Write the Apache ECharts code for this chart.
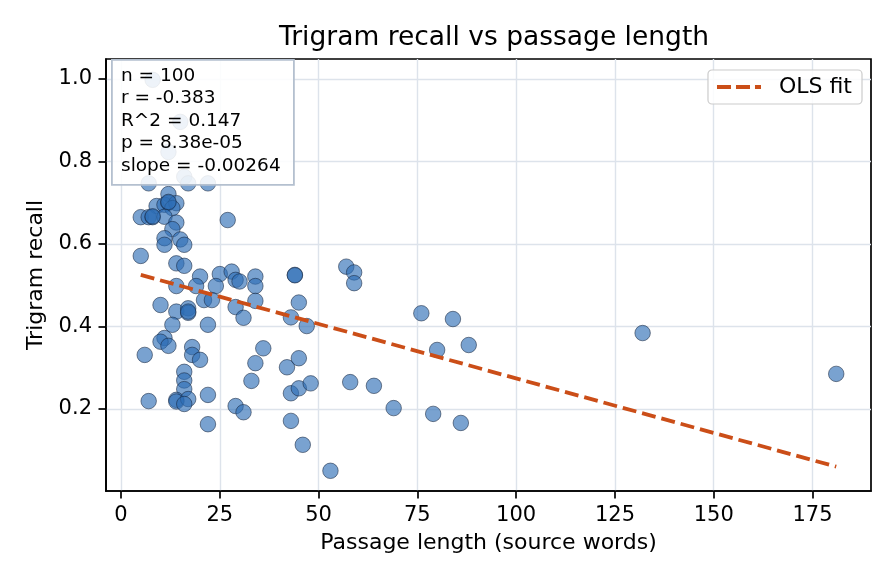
<!DOCTYPE html>
<html>
<head>
<meta charset="utf-8">
<script src="https://cdn.jsdelivr.net/npm/echarts@6/dist/echarts.min.js"></script>
<style>html,body{margin:0;padding:0;background:#fff;}#c{width:896px;height:584px;}</style>
</head>
<body>
<div id="c"></div>
<script>
// passage length (source words)
var lengths = [8,15,12,7,16,17,22,12,9,11,12,14,13,5,7,8,11,14,27,13,11,15,11,16,5,14,16,20,25,28,29,30,34,34,14,19,24,21,23,29,31,34,10,14,17,17,13,22,11,10,12,18,6,18,20,16,16,16,22,7,14,14,17,16,22,29,31,36,34,33,44,44,45,43,47,57,59,59,42,45,43,45,48,58,64,69,79,86,43,46,53,76,84,80,88,132,181,8,12,17];
// trigram recall
var recall = [0.998,0.896,0.823,0.747,0.763,0.747,0.747,0.721,0.692,0.695,0.700,0.699,0.687,0.665,0.665,0.665,0.666,0.652,0.658,0.636,0.614,0.611,0.598,0.598,0.571,0.553,0.547,0.521,0.527,0.533,0.513,0.509,0.521,0.498,0.498,0.498,0.498,0.464,0.464,0.447,0.421,0.462,0.452,0.436,0.444,0.433,0.404,0.404,0.372,0.363,0.353,0.350,0.331,0.331,0.319,0.290,0.269,0.248,0.234,0.219,0.222,0.218,0.224,0.212,0.163,0.207,0.192,0.347,0.311,0.268,0.525,0.524,0.458,0.422,0.401,0.545,0.531,0.505,0.301,0.323,0.238,0.250,0.262,0.265,0.256,0.202,0.188,0.166,0.171,0.113,0.050,0.432,0.418,0.343,0.355,0.384,0.285,0.667,0.702,0.436];
// OLS fit line end points
var fitX = [5, 181];
var fitY = [0.525, 0.060];
var xTicks = [0,25,50,75,100,125,150,175];
var yTicks = [0.2,0.4,0.6,0.8,1.0];
var statsLines = ['n = 100','r = -0.383','R^2 = 0.147','p = 8.38e-05','slope = -0.00264'];

var pts = lengths.map(function(v,i){return [v, recall[i]];});
var fit = fitX.map(function(v,i){return [v, fitY[i]];});
var FONT = 'DejaVu Sans';
var LINE_COLOR = '#cb4e18';
var chart = echarts.init(document.getElementById('c'), null, {renderer:'canvas'});
chart.setOption({
  backgroundColor:'#ffffff',
  animation:false,
  textStyle:{fontFamily:FONT},
  title:{text:'Trigram recall vs passage length', left:489, top:20, textAlign:'center',
    textStyle:{fontFamily:FONT, fontSize:26.5, fontWeight:'normal', color:'#000'}},
  legend:{data:[{name:'OLS fit', icon:'path://M0,0H14V4H0Z M19,0H33V4H19Z M38,0H44V4H38Z'}],
    right:34, top:70, orient:'vertical',
    backgroundColor:'rgba(255,255,255,0.85)', borderColor:'#cccccc', borderWidth:1.2, borderRadius:4,
    padding:[6,10,6,9], itemWidth:44, itemHeight:4, itemGap:10,
    itemStyle:{color:LINE_COLOR},
    textStyle:{fontFamily:FONT, fontSize:22, color:'#000', padding:[0,0,0,13]}},
  grid:{left:106, right:25, top:59, bottom:93, show:true, borderColor:'#000', borderWidth:1.7, backgroundColor:'transparent'},
  xAxis:{type:'value', min:-3.8, max:189.8, minInterval:25, maxInterval:25, splitNumber:8,
    name:'Passage length (source words)', nameLocation:'middle', nameGap:41,
    nameTextStyle:{fontFamily:FONT, fontSize:22, color:'#000'},
    axisLine:{show:true, onZero:false, lineStyle:{color:'#000', width:1.7}},
    axisTick:{show:true, length:7.5, lineStyle:{color:'#000', width:1.7}, customValues:xTicks},
    axisLabel:{fontFamily:FONT, fontSize:21, color:'#000', margin:14, customValues:xTicks,
      formatter:function(v){return String(v);}},
    splitLine:{show:true, lineStyle:{color:'#dde3eb', width:1.4}}},
  yAxis:{type:'value', min:0.001, max:1.0485, minInterval:0.2, maxInterval:0.2, splitNumber:5,
    name:'Trigram recall', nameLocation:'middle', nameGap:58, nameRotate:90,
    nameTextStyle:{fontFamily:FONT, fontSize:22, color:'#000'},
    axisLine:{show:true, onZero:false, lineStyle:{color:'#000', width:1.7}},
    axisTick:{show:true, length:7.5, lineStyle:{color:'#000', width:1.7}, customValues:yTicks},
    axisLabel:{fontFamily:FONT, fontSize:21, color:'#000', margin:14, customValues:yTicks,
      formatter:function(v){return v.toFixed(1);}},
    splitLine:{show:true, lineStyle:{color:'#dde3eb', width:1.4}}},
  series:[
    {type:'scatter', name:'points', data:pts, symbol:'circle', symbolSize:15.5, z:2,
      itemStyle:{color:'rgba(45,110,182,0.8)', borderColor:'rgba(20,35,60,0.85)', borderWidth:0.8}},
    {type:'line', name:'OLS fit', data:fit, symbol:'none', z:3,
      lineStyle:{color:LINE_COLOR, width:3.8, type:[14,6]}, itemStyle:{color:LINE_COLOR}}
  ],
  graphic:[
    {type:'rect', left:111, top:59, z:100, shape:{x:0,y:0,width:182,height:125},
      style:{fill:'rgba(255,255,255,0.87)', stroke:'#b4c0cf', lineWidth:1.8}},
    {type:'text', left:121, top:65, z:101,
      style:{text:statsLines.join('\n'), font:'18.5px "DejaVu Sans"', fill:'#000', lineHeight:22.4}}
  ]
});
</script>
</body>
</html>
